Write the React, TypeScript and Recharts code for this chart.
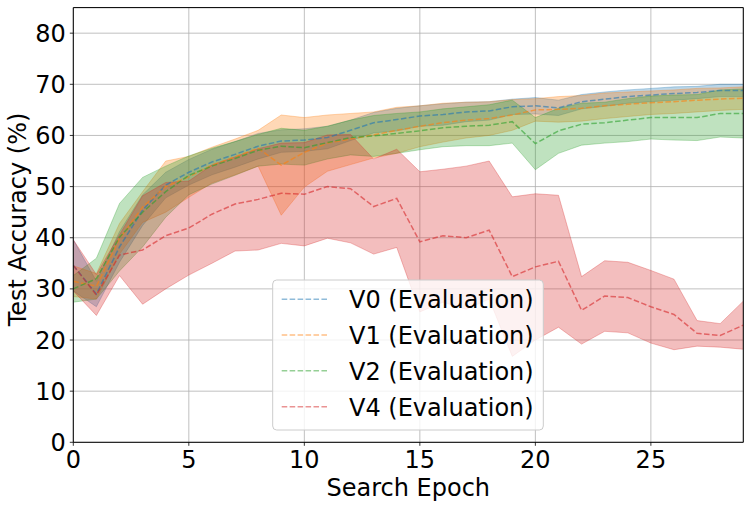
import React from 'react';
import { ComposedChart, Area, Line, XAxis, YAxis, CartesianGrid, ReferenceLine } from 'recharts';

const epochs = [0, 1, 2, 3, 4, 5, 6, 7, 8, 9, 10, 11, 12, 13, 14, 15, 16, 17, 18, 19, 20, 21, 22, 23, 24, 25, 26, 27, 28, 29];

const v0Mean = [34.6, 29.0, 38.2, 45.4, 50.3, 52.8, 54.8, 56.3, 57.9, 58.9, 59.1, 59.6, 61.0, 62.5, 63.1, 63.8, 64.1, 64.6, 64.8, 65.6, 65.8, 65.4, 66.6, 67.1, 67.6, 67.9, 68.2, 68.4, 68.8, 68.8];
const v0Std = [5.0, 2.5, 3.0, 3.0, 2.5, 2.5, 2.5, 2.5, 2.5, 2.2, 2.2, 2.2, 2.0, 2.0, 2.2, 2.0, 2.1, 1.9, 1.8, 1.5, 1.6, 1.5, 1.4, 1.4, 1.3, 1.3, 1.3, 1.2, 1.2, 1.2];

const v1Mean = [31.5, 30.5, 39.8, 46.0, 50.0, 51.9, 54.2, 55.8, 57.5, 54.2, 56.7, 58.5, 59.3, 60.1, 61.0, 61.8, 62.5, 63.0, 63.3, 64.0, 65.0, 65.1, 65.3, 65.8, 66.1, 66.4, 66.6, 66.9, 67.1, 67.3];
const v1Std = [3.0, 2.5, 3.0, 3.0, 5.0, 4.0, 3.5, 3.5, 3.5, 9.8, 6.8, 5.5, 5.0, 4.5, 4.5, 4.0, 3.8, 3.5, 3.3, 3.0, 2.2, 2.5, 2.5, 2.5, 2.4, 2.3, 2.3, 2.3, 2.2, 2.2];

const v2Mean = [30.0, 32.0, 40.1, 45.0, 49.0, 52.2, 54.0, 55.5, 57.1, 57.9, 57.6, 58.6, 59.6, 59.9, 60.4, 60.9, 61.5, 61.8, 62.0, 62.7, 58.4, 60.9, 62.2, 62.5, 63.0, 63.5, 63.5, 63.5, 64.3, 64.3];
const v2Std = [2.6, 4.0, 6.6, 6.8, 5.0, 3.8, 3.5, 3.3, 3.1, 3.5, 3.4, 3.2, 3.4, 4.0, 3.9, 3.7, 3.7, 3.8, 4.0, 4.2, 5.1, 4.4, 4.1, 4.0, 4.2, 4.2, 4.4, 4.5, 4.6, 4.8];

const v4Mean = [34.6, 28.8, 36.6, 37.6, 40.4, 41.9, 44.6, 46.6, 47.5, 48.7, 48.5, 50.0, 49.6, 46.1, 47.7, 39.2, 40.4, 40.0, 41.5, 32.4, 34.3, 35.4, 25.8, 28.6, 28.3, 26.5, 25.0, 21.3, 20.9, 22.9];
const v4Std = [5.0, 4.0, 4.0, 10.6, 10.4, 9.2, 9.6, 9.2, 9.9, 9.8, 10.1, 10.1, 10.6, 9.3, 9.6, 13.7, 13.0, 14.0, 13.5, 15.6, 14.3, 12.9, 6.6, 6.9, 6.9, 7.1, 6.9, 2.5, 2.3, 4.7];

const seriesNames = ['V0 (Evaluation)', 'V1 (Evaluation)', 'V2 (Evaluation)', 'V4 (Evaluation)'];
const seriesColors = ['#1f77b4', '#ff7f0e', '#2ca02c', '#d62728'];
const xTicks = [0, 5, 10, 15, 20, 25];
const yTicks = [0, 10, 20, 30, 40, 50, 60, 70, 80];

const means = [v0Mean, v1Mean, v2Mean, v4Mean];
const stds = [v0Std, v1Std, v2Std, v4Std];

const data = epochs.map((e, i) => {
  const row: Record<string, any> = { epoch: e };
  means.forEach((m, s) => {
    row['m' + s] = m[i];
    row['b' + s] = [m[i] - stds[s][i], m[i] + stds[s][i]];
  });
  return row;
});

const FONT = '"DejaVu Sans", sans-serif';
const DASH = '5.55 2.4';

export default function App() {
  const W = 749;
  const H = 508;
  const children: React.ReactNode[] = [];
  seriesColors.forEach((c, s) => {
    children.push(
      <Area
        key={'a' + s}
        type="linear"
        dataKey={'b' + s}
        fill={c}
        fillOpacity={0.3}
        stroke={c}
        strokeOpacity={0.3}
        strokeWidth={1}
        isAnimationActive={false}
        dot={false}
        activeDot={false}
      />
    );
    children.push(
      <Line
        key={'l' + s}
        type="linear"
        dataKey={'m' + s}
        stroke={c}
        strokeOpacity={0.6}
        strokeWidth={1.5}
        strokeDasharray={DASH}
        dot={false}
        activeDot={false}
        isAnimationActive={false}
      />
    );
  });

  const legendLeft = 272.7;
  const legendTop = 280;
  const rowY = [299.3, 335, 370.7, 406.7];

  return (
    <div style={{ position: 'absolute', left: 0, top: 0, width: W, height: H, background: '#fff' }}>
      <ComposedChart
        width={W}
        height={H}
        data={data}
        margin={{ top: 7.6, right: 5.7, bottom: 0, left: 0 }}
      >
        <CartesianGrid stroke="#b0b0b0" strokeWidth={0.8} />
        <XAxis
          dataKey="epoch"
          type="number"
          domain={[0, 29]}
          ticks={xTicks}
          height={65.7}
          tickSize={3.5}
          tickMargin={5.2}
          axisLine={{ stroke: '#000', strokeWidth: 1 }}
          tickLine={{ stroke: '#000', strokeWidth: 0.8 }}
          tick={{ fill: '#000', fontSize: 24, fontFamily: FONT }}
          allowDataOverflow
        />
        <YAxis
          type="number"
          domain={[0, 85]}
          ticks={yTicks}
          width={73.3}
          tickSize={3.5}
          tickMargin={4}
          axisLine={{ stroke: '#000', strokeWidth: 1 }}
          tickLine={{ stroke: '#000', strokeWidth: 0.8 }}
          tick={{ fill: '#000', fontSize: 24, fontFamily: FONT }}
          allowDataOverflow
        />
        {children}
        <ReferenceLine y={85} stroke="#000" strokeWidth={1} />
        <ReferenceLine x={29} stroke="#000" strokeWidth={1} />
      </ComposedChart>
      <svg
        width={W}
        height={H}
        style={{ position: 'absolute', left: 0, top: 0, pointerEvents: 'none' }}
      >
        <text
          x={408.3}
          y={496}
          textAnchor="middle"
          fontSize={24}
          fontFamily={FONT}
          fill="#000"
        >
          Search Epoch
        </text>
        <text
          x={26}
          y={219.5}
          textAnchor="middle"
          fontSize={24}
          fontFamily={FONT}
          fill="#000"
          transform="rotate(-90 26 219.5)"
        >
          Test Accuracy (%)
        </text>
        <rect
          x={legendLeft}
          y={legendTop}
          width={270.6}
          height={150}
          rx={4}
          ry={4}
          fill="#fff"
          fillOpacity={0.8}
          stroke="#cccccc"
          strokeWidth={1}
        />
        {seriesNames.map((n, s) => (
          <g key={n}>
            <line
              x1={281.7}
              x2={329.3}
              y1={rowY[s]}
              y2={rowY[s]}
              stroke={seriesColors[s]}
              strokeOpacity={0.5}
              strokeWidth={1.5}
              strokeDasharray={DASH}
            />
            <text x={349} y={rowY[s] + 8.8} fontSize={24} fontFamily={FONT} fill="#000">
              {n}
            </text>
          </g>
        ))}
      </svg>
    </div>
  );
}
